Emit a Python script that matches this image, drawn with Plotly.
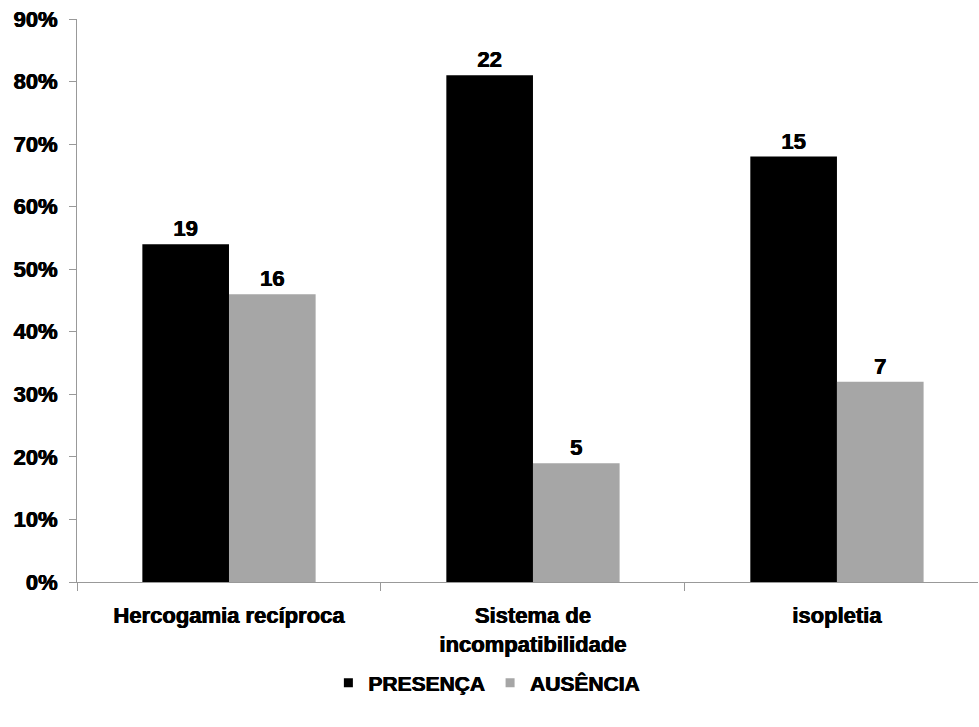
import plotly.graph_objects as go

categories = ["Hercogamia recíproca", "Sistema de<br>incompatibilidade", "isopletia"]
presenca_pct = [54, 81, 68]
ausencia_pct = [46, 19, 32]
presenca_n = [19, 22, 15]
ausencia_n = [16, 5, 7]
y_ticks = [0, 10, 20, 30, 40, 50, 60, 70, 80, 90]
y_tick_labels = [f"{v}%" for v in y_ticks]

COLOR_PRES = "#000000"
COLOR_AUS = "#a6a6a6"
FONT = "Liberation Sans"
heavy = "0.4px 0 0 black, -0.4px 0 0 black"
label_font = dict(family=FONT, size=22, color="black", weight="bold", shadow=heavy)

fig = go.Figure()
fig.add_trace(go.Bar(
    name="PRESENÇA", x=categories, y=presenca_pct,
    marker=dict(color=COLOR_PRES, line=dict(width=0)),
    text=[str(n) for n in presenca_n], textposition="outside",
    textfont=label_font, cliponaxis=False, showlegend=False,
))
fig.add_trace(go.Bar(
    name="AUSÊNCIA", x=categories, y=ausencia_pct,
    marker=dict(color=COLOR_AUS, line=dict(width=0)),
    text=[str(n) for n in ausencia_n], textposition="outside",
    textfont=label_font, cliponaxis=False, showlegend=False,
))
# small square legend keys
for name, color in [("PRESENÇA", COLOR_PRES), ("AUSÊNCIA", COLOR_AUS)]:
    fig.add_trace(go.Scatter(
        name=name, x=[None], y=[None], mode="markers",
        marker=dict(symbol="square", size=9, color=color),
    ))

fig.update_layout(
    width=979, height=727,
    margin=dict(l=77, r=1, t=19, b=145),
    paper_bgcolor="white", plot_bgcolor="white",
    barmode="group", bargap=0.43, bargroupgap=0,
    font=dict(family=FONT, size=22, color="black", weight="bold"),
    showlegend=True,
    legend=dict(
        orientation="h", x=0.279, xanchor="left", y=-0.143, yanchor="top",
        font=dict(family=FONT, size=21, color="black", weight="bold", shadow=heavy),
        itemwidth=30, traceorder="normal", tracegroupgap=0,
    ),
    xaxis=dict(
        range=[-0.5, 2.464], showline=True, linecolor="#999999", linewidth=1,
        ticks="outside", tickcolor="#999999", ticklen=8, tickson="boundaries",
        showgrid=False,
        tickfont=dict(family=FONT, size=22, color="black", weight="bold", shadow=heavy),
        ticklabelstandoff=14,
    ),
    yaxis=dict(
        range=[0, 90], tickvals=y_ticks, ticktext=y_tick_labels,
        showline=True, linecolor="#999999", linewidth=1,
        ticks="outside", tickcolor="#999999", ticklen=7,
        showgrid=False, zeroline=False,
        tickfont=dict(family=FONT, size=22, color="black", weight="bold", shadow=heavy),
        ticklabelstandoff=7,
    ),
)

fig.write_html("out.html")
